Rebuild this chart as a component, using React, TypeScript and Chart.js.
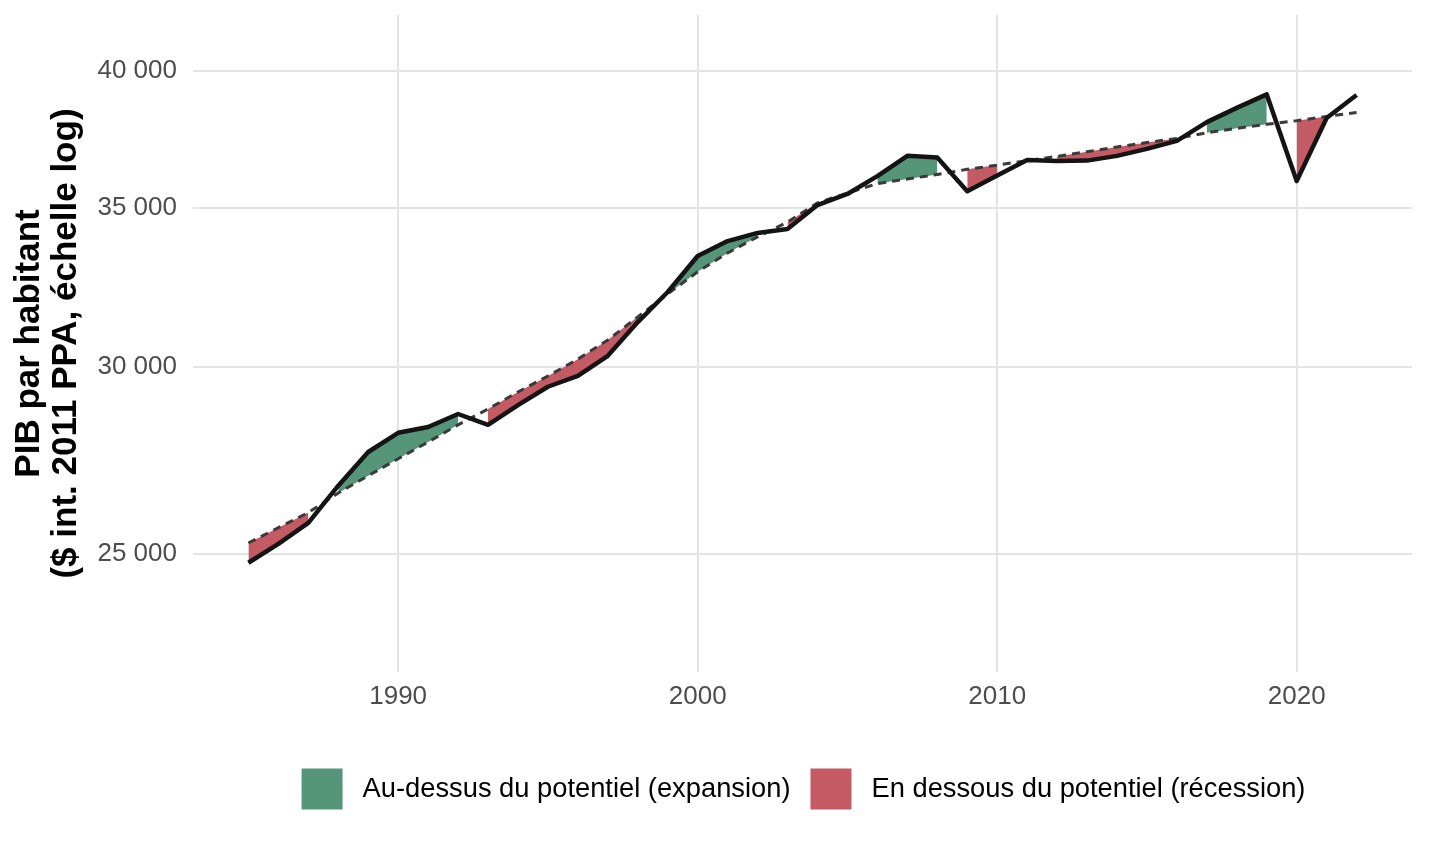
import { useEffect, useRef } from 'react'
import { Chart, registerables } from 'chart.js'

Chart.register(...registerables)

// PIB par habitant, $ int. 2011 PPA
const years = [
  1985, 1986, 1987, 1988, 1989, 1990, 1991, 1992, 1993, 1994,
  1995, 1996, 1997, 1998, 1999, 2000, 2001, 2002, 2003, 2004,
  2005, 2006, 2007, 2008, 2009, 2010, 2011, 2012, 2013, 2014,
  2015, 2016, 2017, 2018, 2019, 2020, 2021, 2022,
]
const gdpActual = [
  24790, 25250, 25770, 26720, 27610, 28130, 28290, 28650, 28350, 28900,
  29420, 29730, 30320, 31330, 32260, 33410, 33900, 34170, 34300, 35110,
  35490, 36110, 36830, 36770, 35580, 36130, 36680, 36650, 36660, 36830,
  37080, 37370, 38060, 38590, 39100, 35940, 38210, 39080,
]
const gdpTrend = [
  25270, 25650, 26030, 26530, 26980, 27430, 27880, 28350, 28790, 29270,
  29730, 30220, 30790, 31490, 32200, 32900, 33510, 34040, 34530, 35180,
  35520, 35850, 36010, 36170, 36350, 36500, 36660, 36810, 36980, 37150,
  37310, 37460, 37670, 37830, 37980, 38110, 38270, 38420,
]
const yTicks = [25000, 30000, 35000, 40000]
const xTicks = [1990, 2000, 2010, 2020]
const legendLabels = [
  'Au-dessus du potentiel (expansion)',
  'En dessous du potentiel (récession)',
]

const GREEN = '#55967A'
const RED = '#C45A63'
const FONT = '"Liberation Sans", Arial, sans-serif'

const isAbove = (i: number) => gdpActual[i] >= gdpTrend[i]
const masked = (vals: number[], keep: (i: number) => boolean) =>
  years.map((x, i) => ({ x, y: keep(i) ? vals[i] : null }))

const fmt = (v: number) => String(Math.round(v)).replace(/\B(?=(\d{3})+(?!\d))/g, ' ')

const legendPlugin = {
  id: 'bottomLegend',
  afterDraw(chart: any) {
    const { ctx, chartArea } = chart
    const colors = [GREEN, RED]
    const box = 41
    const gap = 20
    ctx.save()
    ctx.font = `27.3px ${FONT}`
    const widths = legendLabels.map((t) => ctx.measureText(t).width)
    const total = box * 2 + gap * 3 + widths[0] + widths[1]
    let x = (chartArea.left + chartArea.right) / 2 + 1 - total / 2
    const cy = chartArea.bottom + 117
    legendLabels.forEach((label, i) => {
      ctx.fillStyle = colors[i]
      ctx.fillRect(x, cy - box / 2, box, box)
      x += box + gap
      ctx.fillStyle = '#000000'
      ctx.textBaseline = 'middle'
      ctx.textAlign = 'left'
      ctx.fillText(label, x, cy)
      x += widths[i] + gap
    })
    ctx.restore()
  },
}

export default function App() {
  const ref = useRef<HTMLCanvasElement | null>(null)

  useEffect(() => {
    if (!ref.current) return
    const ribbon = {
      borderColor: 'transparent',
      borderWidth: 0,
      pointRadius: 0,
      tension: 0,
    }
    const chart = new Chart(ref.current, {
      type: 'line',
      data: {
        datasets: [
          {
            label: 'PIB',
            data: years.map((x, i) => ({ x, y: gdpActual[i] })),
            borderColor: '#141414',
            borderWidth: 4.5,
            borderJoinStyle: 'round',
            pointRadius: 0,
            tension: 0,
            fill: false,
          },
          {
            label: 'Potentiel',
            data: years.map((x, i) => ({ x, y: gdpTrend[i] })),
            borderColor: '#3a3a3a',
            borderWidth: 3,
            borderDash: [8, 6],
            pointRadius: 0,
            tension: 0,
            fill: false,
          },
          { ...ribbon, label: 'exp-haut', data: masked(gdpActual, isAbove), fill: 3, backgroundColor: GREEN },
          { ...ribbon, label: 'exp-bas', data: masked(gdpTrend, isAbove), fill: false },
          { ...ribbon, label: 'rec-haut', data: masked(gdpTrend, (i) => !isAbove(i)), fill: 5, backgroundColor: RED },
          { ...ribbon, label: 'rec-bas', data: masked(gdpActual, (i) => !isAbove(i)), fill: false },
        ] as any,
      },
      options: {
        animation: false,
        responsive: true,
        maintainAspectRatio: false,
        layout: { padding: { top: 15, right: 28, left: 0, bottom: 0 } },
        plugins: {
          legend: { display: false },
          tooltip: { enabled: false },
        },
        scales: {
          x: {
            type: 'linear',
            min: 1983.15,
            max: 2023.85,
            afterBuildTicks: (scale: any) => {
              scale.ticks = xTicks.map((value) => ({ value }))
            },
            afterFit: (scale: any) => {
              scale.height = 172
              scale.paddingLeft = 0
              scale.paddingRight = 0
            },
            grid: { color: '#E4E4E4', lineWidth: 2, drawTicks: false },
            border: { display: false },
            ticks: {
              padding: 9,
              color: '#4D4D4D',
              font: { family: FONT, size: 26 },
              callback: (v: any) => String(v),
            },
          },
          y: {
            type: 'logarithmic',
            min: 22290,
            max: 42240,
            afterBuildTicks: (scale: any) => {
              scale.ticks = yTicks.map((value) => ({ value }))
            },
            afterFit: (scale: any) => {
              scale.width = 193
              scale.paddingTop = 0
              scale.paddingBottom = 0
            },
            grid: { color: '#E4E4E4', lineWidth: 2, drawTicks: false },
            border: { display: false },
            ticks: {
              padding: 16,
              color: '#4D4D4D',
              font: { family: FONT, size: 26 },
              callback: (v: any) => fmt(Number(v)),
            },
            title: {
              display: true,
              text: ['PIB par habitant', '($ int. 2011 PPA, échelle log)'],
              color: '#000000',
              font: { family: FONT, size: 35, weight: 'bold', lineHeight: '37px' },
              padding: { top: 11, bottom: 0 },
            },
          },
        },
      } as any,
      plugins: [legendPlugin],
    })
    return () => chart.destroy()
  }, [])

  return (
    <div style={{ position: 'absolute', left: 0, top: 0, width: 1440, height: 844, background: '#ffffff' }}>
      <canvas ref={ref} />
    </div>
  )
}
